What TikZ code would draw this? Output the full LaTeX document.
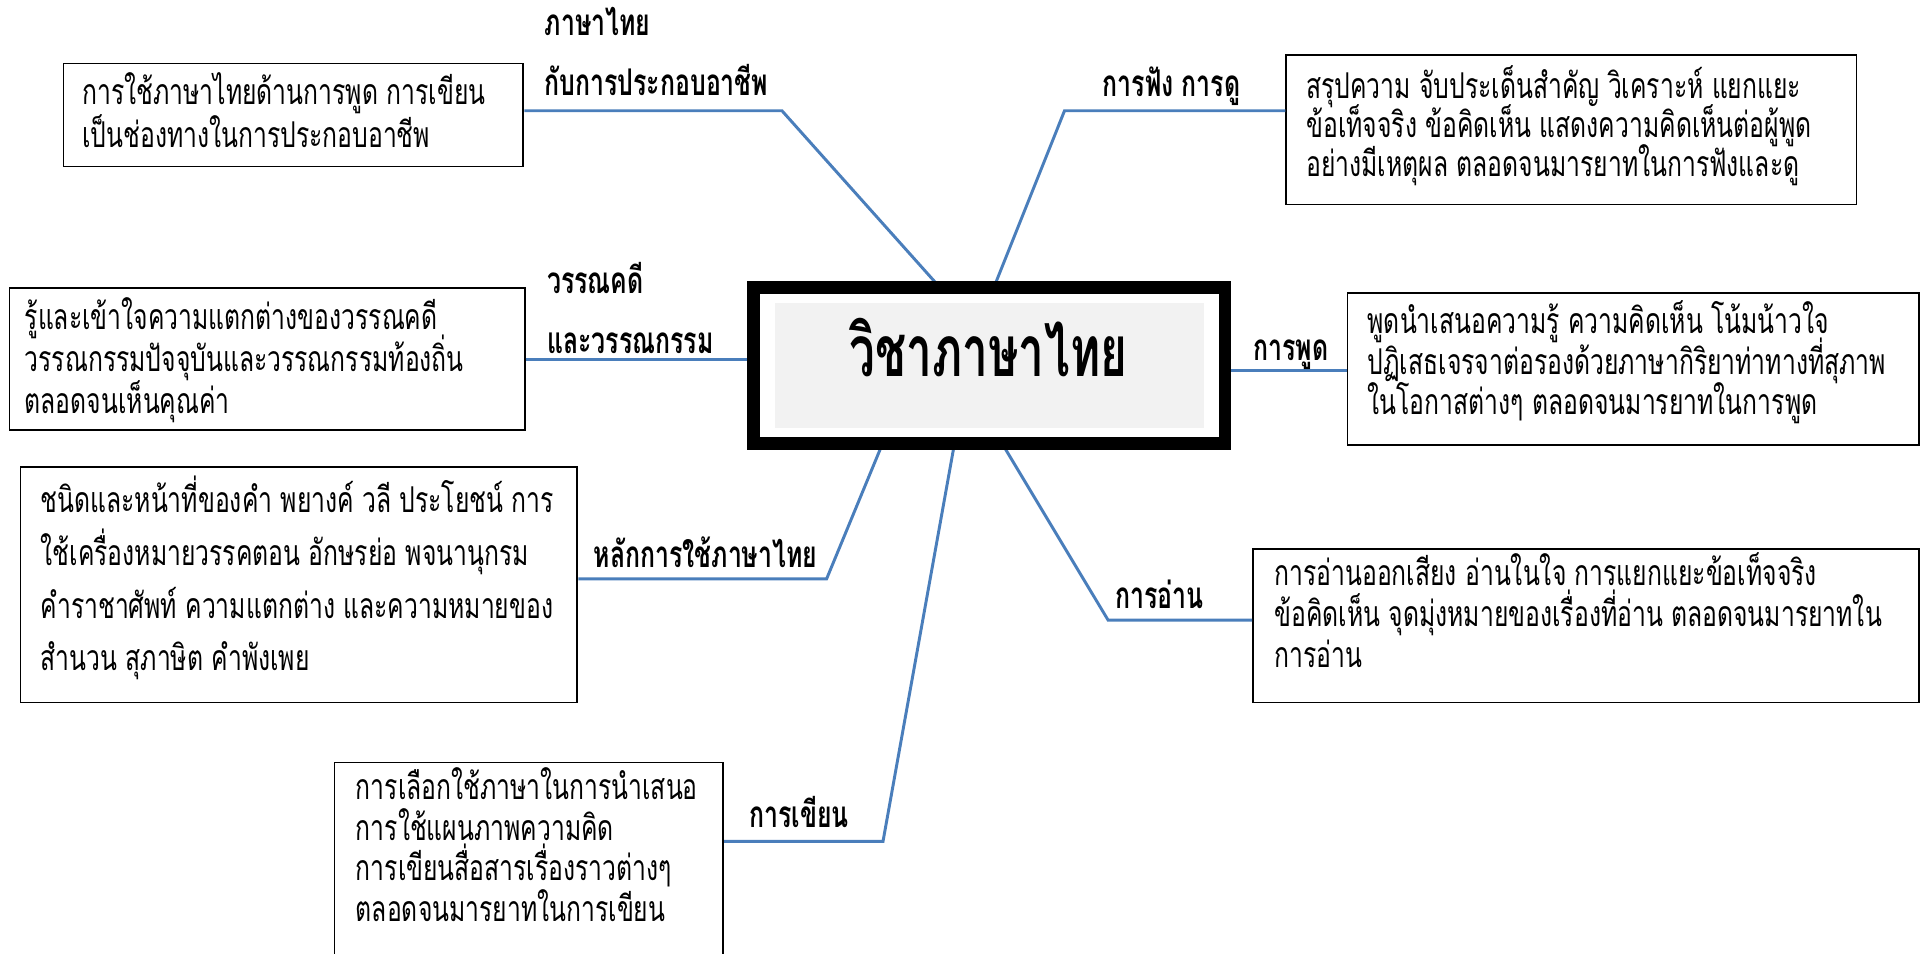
\documentclass[tikz,border=0pt]{standalone}
\usepackage{fontspec}
\newfontfamily\thai[Script=Thai,FakeStretch=0.695]{Loma}
\newfontfamily\thailbl[Script=Thai,FakeStretch=0.675]{Loma}
\newfontfamily\thaititle[Script=Thai,FakeStretch=0.645]{Loma}
\usetikzlibrary{calc}
\definecolor{linkblue}{HTML}{4A7EBB}
\definecolor{panelgrey}{HTML}{F2F2F2}
\tikzset{
  box/.style={draw=black, line width=1.5pt, inner sep=0pt, anchor=north west},
  body/.style={font=\thai\fontsize{29}{34}\selectfont, anchor=base west, inner sep=0pt},
  lbl/.style={font=\thailbl\bfseries\fontsize{30}{34}\selectfont, anchor=base west, inner sep=0pt},
  link/.style={draw=linkblue, line width=2.4pt},
}
\begin{document}
\begin{tikzpicture}[x=1pt,y=-1pt]
\useasboundingbox (0,0) rectangle (1568,777.1);
\clip (0,0) rectangle (1568,777.1);
\fill[white] (0,0) rectangle (1568,777.1);

% boxes
\node[box, minimum width=375pt, minimum height=84pt] (bA) at (51,51) {};
\node[box, minimum width=465pt, minimum height=122pt] (bB) at (1048,44) {};
\node[box, minimum width=420pt, minimum height=116pt] (bC) at (7,234) {};
\node[box, minimum width=466pt, minimum height=124pt] (bD) at (1098,238) {};
\node[box, minimum width=454pt, minimum height=192pt] (bE) at (16,380) {};
\node[box, minimum width=543pt, minimum height=125pt] (bF) at (1021,447) {};
\node[box, minimum width=317pt, minimum height=180pt] (bG) at (272,621) {};

% centre box
\node[draw=black, line width=6.8pt, minimum width=381pt, minimum height=123.5pt, inner sep=0pt] (cbox) at (806.75,298) {};
\node[fill=panelgrey, minimum width=350pt, minimum height=102pt, inner sep=0pt] (cgrey) at (807,298) {};
\node[font=\thaititle\bfseries\fontsize{58}{64}\selectfont, anchor=base, inner sep=0pt] (title) at (806,307) {วิชาภาษาไทย};

% bend points
\coordinate (kA) at (637.6,90.3);
\coordinate (eA) at (765,0);
\coordinate (kB) at (868,90.3);
\coordinate (eB) at (811,0);
\coordinate (kC) at (500,293);
\coordinate (kD) at (1050,302);
\coordinate (kE) at (674,472);
\coordinate (eE) at (719,0);
\coordinate (kF) at (903.5,505.6);
\coordinate (eF) at (818,0);
\coordinate (kG) at (720,686);
\coordinate (eG) at (778,0);

\draw[link] (bA.east |- kA) -- (kA) -- (eA |- cbox.north);
\draw[link] (eB |- cbox.north) -- (kB) -- (bB.west |- kB);
\draw[link] (bC.east |- kC) -- (kC -| cbox.west);
\draw[link] (cbox.east |- kD) -- (bD.west |- kD);
\draw[link] (bE.east |- kE) -- (kE) -- (eE |- cbox.south);
\draw[link] (eF |- cbox.south) -- (kF) -- (bF.west |- kF);
\draw[link] (eG |- cbox.south) -- (kG) -- (bG.east |- kG);
\draw[black, line width=6.8pt] (cbox.north west) rectangle (cbox.south east);

% labels
\node[lbl] (lA1) at (444,29) {ภาษาไทย};
\node[lbl] (lA2) at (444,78) {กับการประกอบอาชีพ};
\node[lbl] (lB) at (899,79) {การฟัง การดู};
\node[lbl] (lC1) at (446,239) {วรรณคดี};
\node[lbl] (lC2) at (446,288) {และวรรณกรรม};
\node[lbl] (lD) at (1022,294) {การพูด};
\node[lbl] (lE) at (484,463) {หลักการใช้ภาษาไทย};
\node[lbl] (lF) at (909,496) {การอ่าน};
\node[lbl] (lG) at (611,675) {การเขียน};

% box texts
\node[body] (tA1) at (67,85) {การใช้ภาษาไทยด้านการพูด การเขียน};
\node[body] (tA2) at (67,120) {เป็นช่องทางในการประกอบอาชีพ};
\node[body] (tB1) at (1065,80) {สรุปความ จับประเด็นสำคัญ วิเคราะห์ แยกแยะ};
\node[body] (tB2) at (1065,112) {ข้อเท็จจริง ข้อคิดเห็น แสดงความคิดเห็นต่อผู้พูด};
\node[body] (tB3) at (1065,144) {อย่างมีเหตุผล ตลอดจนมารยาทในการฟังและดู};
\node[body] (tC1) at (20,269) {รู้และเข้าใจความแตกต่างของวรรณคดี};
\node[body] (tC2) at (20,303) {วรรณกรรมปัจจุบันและวรรณกรรมท้องถิ่น};
\node[body] (tC3) at (20,337) {ตลอดจนเห็นคุณค่า};
\node[body] (tD1) at (1115,272) {พูดนำเสนอความรู้ ความคิดเห็น โน้มน้าวใจ};
\node[body] (tD2) at (1115,305) {ปฏิเสธเจรจาต่อรองด้วยภาษากิริยาท่าทางที่สุภาพ};
\node[body] (tD3) at (1115,338) {ในโอกาสต่างๆ ตลอดจนมารยาทในการพูด};
\node[body] (tE1) at (33,418) {ชนิดและหน้าที่ของคำ พยางค์ วลี ประโยชน์ การ};
\node[body] (tE2) at (33,461) {ใช้เครื่องหมายวรรคตอน อักษรย่อ พจนานุกรม};
\node[body] (tE3) at (33,504) {คำราชาศัพท์ ความแตกต่าง และความหมายของ};
\node[body] (tE4) at (33,547) {สำนวน สุภาษิต คำพังเพย};
\node[body] (tF1) at (1039,477) {การอ่านออกเสียง อ่านในใจ การแยกแยะข้อเท็จจริง};
\node[body] (tF2) at (1039,511) {ข้อคิดเห็น จุดมุ่งหมายของเรื่องที่อ่าน ตลอดจนมารยาทใน};
\node[body] (tF3) at (1039,544) {การอ่าน};
\node[body] (tG1) at (290,652) {การเลือกใช้ภาษาในการนำเสนอ};
\node[body] (tG2) at (290,685) {การใช้แผนภาพความคิด};
\node[body] (tG3) at (290,718) {การเขียนสื่อสารเรื่องราวต่างๆ};
\node[body] (tG4) at (290,751) {ตลอดจนมารยาทในการเขียน};
\end{tikzpicture}
\end{document}
